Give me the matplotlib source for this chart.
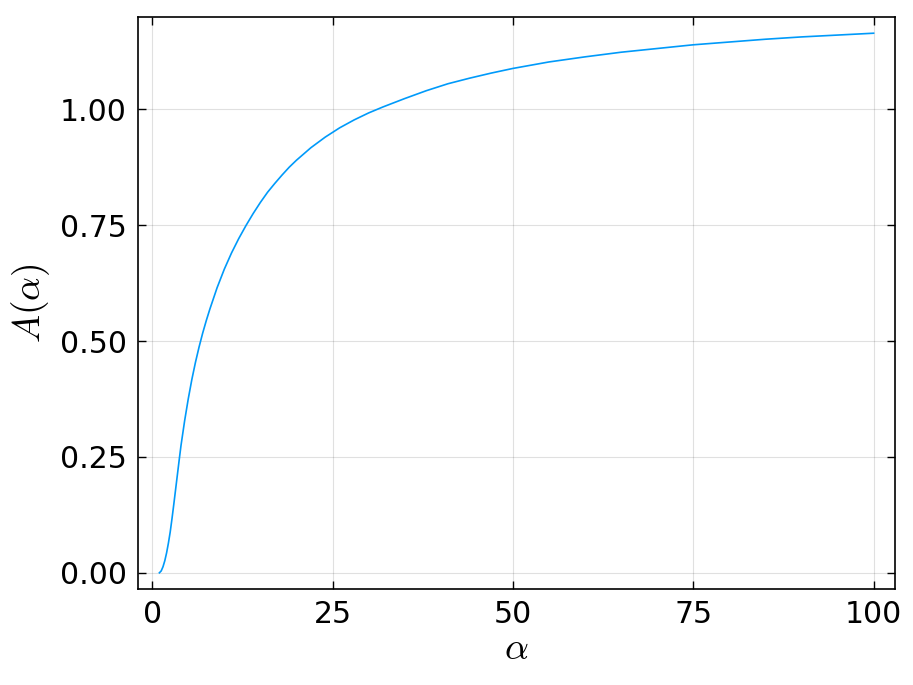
import matplotlib
matplotlib.use("Agg")
import matplotlib.pyplot as plt

# values
alpha = [1.0, 1.25, 1.5, 1.75, 2.0, 2.25, 2.5, 2.75, 3.0, 3.25, 3.5, 3.75, 4.0,
         4.5, 5.0, 5.5, 6.0, 6.5, 7.0, 7.5, 8.0, 9.0, 10.0, 11.0, 12.0, 13.0,
         14.0, 15.0, 16.0, 17.0, 18.0, 19.0, 20.0, 22.0, 24.0, 26.0, 28.0, 30.0,
         32.0, 35.0, 38.0, 41.0, 44.0, 47.0, 50.0, 55.0, 60.0, 65.0, 70.0, 75.0,
         80.0, 85.0, 90.0, 95.0, 100.0]
A = [0.000, 0.004, 0.013, 0.026, 0.043, 0.064, 0.088, 0.117, 0.148, 0.180,
     0.212, 0.244, 0.275, 0.328, 0.375, 0.417, 0.454, 0.487, 0.517, 0.544,
     0.569, 0.615, 0.655, 0.690, 0.721, 0.749, 0.775, 0.799, 0.821, 0.840,
     0.858, 0.875, 0.890, 0.917, 0.940, 0.960, 0.977, 0.992, 1.005, 1.023,
     1.040, 1.055, 1.067, 1.078, 1.088, 1.102, 1.113, 1.123, 1.131, 1.139,
     1.145, 1.151, 1.156, 1.160, 1.164]

xticks = [0, 25, 50, 75, 100]
yticks = [0.0, 0.25, 0.50, 0.75, 1.00]
ytick_labels = ["0.00", "0.25", "0.50", "0.75", "1.00"]

plt.rcParams["mathtext.fontset"] = "cm"

fig = plt.figure(figsize=(9.13, 6.85), dpi=100)
ax = fig.add_axes([0.1511, 0.1401, 0.8292, 0.8351])
ax.plot(alpha, A, color="#009AFA", linewidth=1.2, solid_joinstyle="round")

ax.set_xlim(-1.97, 102.97)
ax.set_ylim(-0.035, 1.199)
ax.set_xticks(xticks)
ax.set_yticks(yticks)
ax.set_yticklabels(ytick_labels)
ax.grid(True, color="#000000", alpha=0.12, linewidth=0.8)

ax.tick_params(direction="in", length=6, width=1.0, labelsize=21.5,
               top=True, right=True, pad=8)
for sp in ax.spines.values():
    sp.set_linewidth(1.2)
    sp.set_color("black")

ax.set_xlabel(r"$\alpha$", fontsize=27, labelpad=1)
ax.set_ylabel(r"$A(\alpha)$", fontsize=27, labelpad=6)

fig.savefig("out.png", dpi=100)
